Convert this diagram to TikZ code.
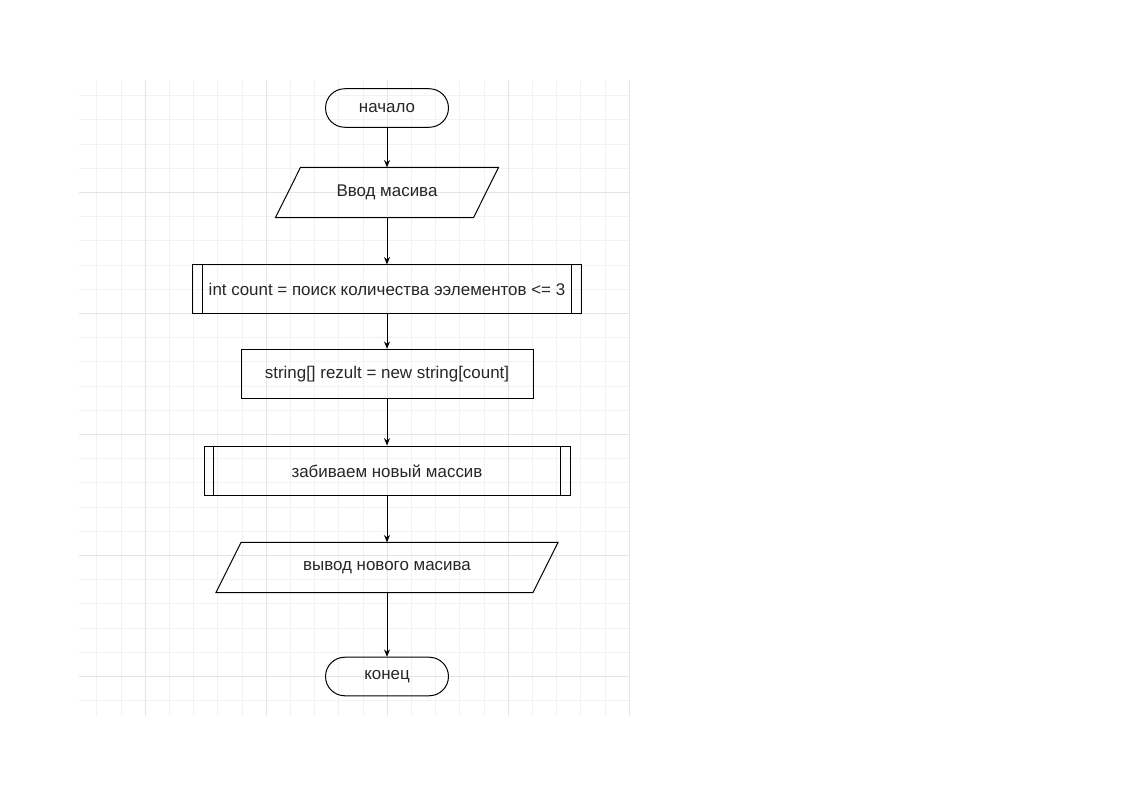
\documentclass[tikz,border=0pt]{standalone}
\usepackage{fontspec}
\setmainfont{Liberation Sans}
\usetikzlibrary{arrows.meta}
\colorlet{gridminor}{black!5}
\colorlet{gridmajor}{black!10}
\colorlet{ink}{black!85}
\begin{document}
\begin{tikzpicture}[x=0.75pt,y=-0.75pt,
    every node/.style={font=\fontsize{12.7}{15}\selectfont, text=ink, draw, line width=0.75pt, align=center},
    term/.style={rectangle, rounded corners=14.4pt, minimum width=92.2pt, minimum height=28.9pt},
    proc/.style={rectangle, minimum height=36.8pt},
    io/.style={draw=none, minimum height=37pt},
    flow/.style={line width=0.75pt, -{Stealth[length=5.5pt,width=4.5pt]}}]
  \useasboundingbox (0,0) rectangle (1122,793);
  % background grid
  \begin{scope}[line width=0.75pt]
    \clip (79,80) rectangle (630,716);
    \foreach \k in {0,...,22}
      \draw[gridminor] ({96.9+24.2*\k},80) -- ({96.9+24.2*\k},716);
    \foreach \k in {0,...,25}
      \draw[gridminor] (79,{95.7+24.2*\k}) -- (630,{95.7+24.2*\k});
    \foreach \k in {2,7,12,17,22}
      \draw[gridmajor] ({96.9+24.2*\k},80) -- ({96.9+24.2*\k},716);
    \foreach \k in {4,9,14,19,24}
      \draw[gridmajor] (79,{95.7+24.2*\k}) -- (630,{95.7+24.2*\k});
  \end{scope}
  % blocks
  \node[term] (start) at (387,108) {начало};
  \node[io, minimum width=147.8pt] (input) at (387,192.5) {Ввод масива};
  \node[proc, minimum width=291.3pt, minimum height=36.4pt] (count) at (387,289.2)
    {int count = поиск количества ээлементов <= 3};
  \node[proc, minimum width=219pt] (alloc) at (387,373.8) {string[] rezult = new string[count]};
  \node[proc, minimum width=274.5pt, minimum height=37.2pt] (fill) at (387,470.8) {забиваем новый массив};
  \node[io, minimum width=237pt] (output) at (387,567.5) {вывод нового масива};
  \node[term] (end) at (387,676.5) {конец};
  % parallelograms
  \foreach \n in {input,output}
    \draw[line width=0.75pt] ([xshift=9.4pt]\n.north west) -- ([xshift=9.4pt]\n.north east)
      -- ([xshift=-9.4pt]\n.south east) -- ([xshift=-9.4pt]\n.south west) -- cycle;
  % subprocess bars
  \foreach \n in {count,fill}
    {
    \draw[line width=0.75pt] ([xshift=7.5pt]\n.north west) -- ([xshift=7.5pt]\n.south west);
    \draw[line width=0.75pt] ([xshift=-7.5pt]\n.north east) -- ([xshift=-7.5pt]\n.south east);
    }
  % connectors
  \foreach \a/\b in {start/input,input/count,count/alloc,alloc/fill,fill/output,output/end}
    \draw[flow] (\a.south) -- (\b.north);
\end{tikzpicture}
\end{document}
